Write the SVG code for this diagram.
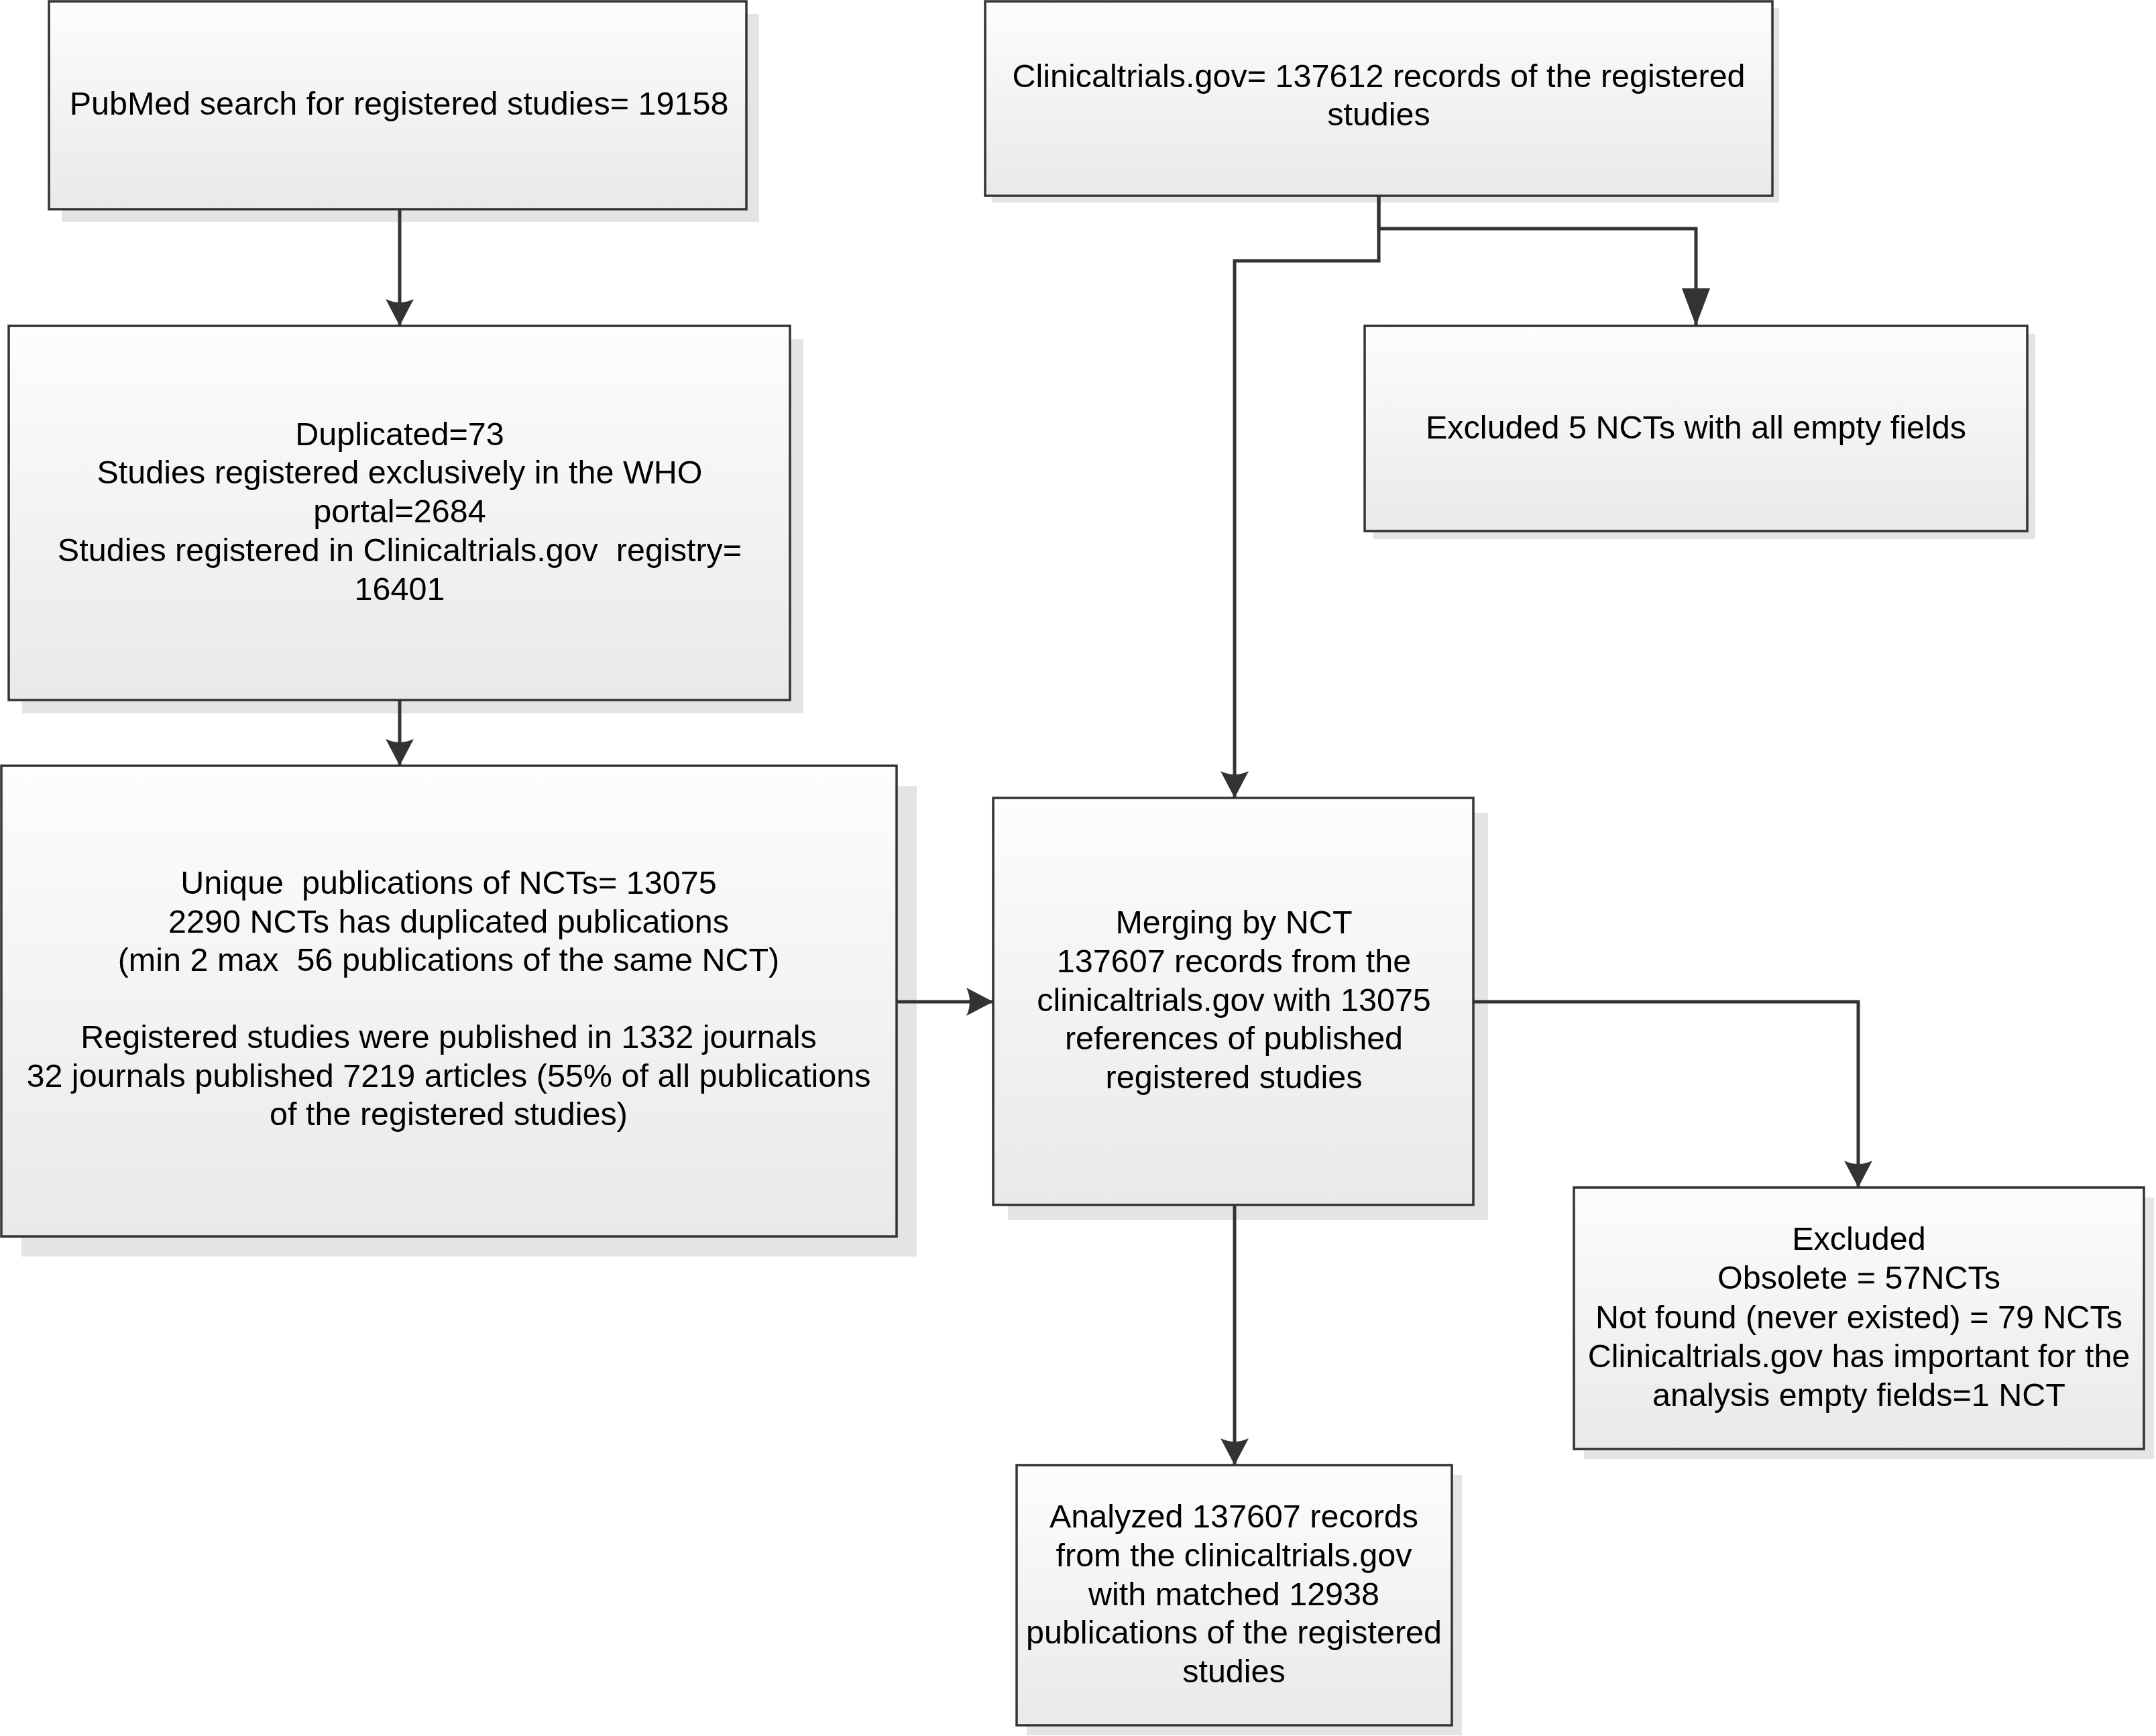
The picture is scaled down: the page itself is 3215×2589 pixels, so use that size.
<svg xmlns="http://www.w3.org/2000/svg" width="3215" height="2589" viewBox="0 0 3215 2589">
<style>
.box{stroke:#333333;stroke-width:3.5;fill:url(#g)}
.sh{fill:#e4e4e4;stroke:none}
.t{font-family:"Liberation Sans",Arial,sans-serif;font-size:48.5px;fill:#000;text-anchor:middle}
.c{fill:none;stroke:#333333;stroke-width:5;stroke-linejoin:miter}
</style>
<defs>
<linearGradient id="g" x1="0" y1="0" x2="0" y2="1">
<stop offset="0" stop-color="#fdfdfd"/>
<stop offset="1" stop-color="#e9e9e9"/>
</linearGradient>
<marker id="arr" viewBox="0 0 40 42" refX="40" refY="21" markerWidth="40" markerHeight="42" markerUnits="userSpaceOnUse" orient="auto">
<path d="M0,0 L40,21 L0,42 Q10,21 0,0 Z" fill="#333333"/>
</marker>
<marker id="tri" viewBox="0 0 56 42" refX="56" refY="21" markerWidth="56" markerHeight="42" markerUnits="userSpaceOnUse" orient="auto">
<path d="M0,0 L56,21 L0,42 Z" fill="#333333"/>
</marker>
</defs>
<rect width="3215" height="2589" fill="#ffffff"/>

<g id="pubmed">
<rect class="sh" x="92" y="21" width="1040" height="310"/>
<rect class="box" x="73" y="2" width="1040" height="310"/>
<text class="t" x="595" y="171">PubMed search for registered studies= 19158</text>
</g>

<g id="clinicaltrials">
<rect class="sh" x="1479" y="12" width="1174" height="290"/>
<rect class="box" x="1469" y="2" width="1174" height="290"/>
<text class="t" x="2056" y="130">Clinicaltrials.gov= 137612 records of the registered</text>
<text class="t" x="2056" y="187">studies</text>
</g>

<g id="excluded5">
<rect class="sh" x="2047" y="498" width="988" height="306"/>
<rect class="box" x="2035" y="486" width="988" height="306"/>
<text class="t" x="2529" y="654">Excluded 5 NCTs with all empty fields</text>
</g>

<g id="duplicated">
<rect class="sh" x="33" y="506" width="1165" height="558"/>
<rect class="box" x="13" y="486" width="1165" height="558"/>
<text class="t" x="596" y="664">Duplicated=73</text>
<text class="t" x="596" y="721">Studies registered exclusively in the WHO</text>
<text class="t" x="596" y="779">portal=2684</text>
<text class="t" x="596" y="837" xml:space="preserve">Studies registered in Clinicaltrials.gov  registry=</text>
<text class="t" x="596" y="895">16401</text>
</g>

<g id="unique">
<rect class="sh" x="32" y="1172" width="1335" height="702"/>
<rect class="box" x="2" y="1142" width="1335" height="702"/>
<text class="t" x="669" y="1333" xml:space="preserve">Unique  publications of NCTs= 13075</text>
<text class="t" x="669" y="1391">2290 NCTs has duplicated publications</text>
<text class="t" x="669" y="1448" xml:space="preserve">(min 2 max  56 publications of the same NCT)</text>
<text class="t" x="669" y="1563">Registered studies were published in 1332 journals</text>
<text class="t" x="669" y="1621">32 journals published 7219 articles (55% of all publications</text>
<text class="t" x="669" y="1678">of the registered studies)</text>
</g>

<g id="merging">
<rect class="sh" x="1503" y="1212" width="716" height="607"/>
<rect class="box" x="1481" y="1190" width="716" height="607"/>
<text class="t" x="1840" y="1392">Merging by NCT</text>
<text class="t" x="1840" y="1450">137607 records from the</text>
<text class="t" x="1840" y="1508">clinicaltrials.gov with 13075</text>
<text class="t" x="1840" y="1565">references of published</text>
<text class="t" x="1840" y="1623">registered studies</text>
</g>

<g id="excluded">
<rect class="sh" x="2362" y="1786" width="850" height="390"/>
<rect class="box" x="2347" y="1771" width="850" height="390"/>
<text class="t" x="2772" y="1864">Excluded</text>
<text class="t" x="2772" y="1922">Obsolete = 57NCTs</text>
<text class="t" x="2772" y="1981">Not found (never existed) = 79 NCTs</text>
<text class="t" x="2772" y="2039">Clinicaltrials.gov has important for the</text>
<text class="t" x="2772" y="2097">analysis empty fields=1 NCT</text>
</g>

<g id="analyzed">
<rect class="sh" x="1531" y="2200" width="649" height="388"/>
<rect class="box" x="1516" y="2185" width="649" height="388"/>
<text class="t" x="1840" y="2278">Analyzed 137607 records</text>
<text class="t" x="1840" y="2336">from the clinicaltrials.gov</text>
<text class="t" x="1840" y="2394">with matched 12938</text>
<text class="t" x="1840" y="2451">publications of the registered</text>
<text class="t" x="1840" y="2509">studies</text>
</g>

<g id="connectors">
<path class="c" d="M596,312 L596,486" marker-end="url(#arr)"/>
<path class="c" d="M596,1044 L596,1142" marker-end="url(#arr)"/>
<path class="c" d="M1337,1494 L1481,1494" marker-end="url(#arr)"/>
<path class="c" d="M2056,292 L2056,341 L2529,341 L2529,486" marker-end="url(#tri)"/>
<path class="c" d="M2056,292 L2056,389 L1841,389 L1841,1190" marker-end="url(#arr)"/>
<path class="c" d="M2197,1494 L2771,1494 L2771,1771" marker-end="url(#arr)"/>
<path class="c" d="M1841,1797 L1841,2185" marker-end="url(#arr)"/>
</g>
</svg>
